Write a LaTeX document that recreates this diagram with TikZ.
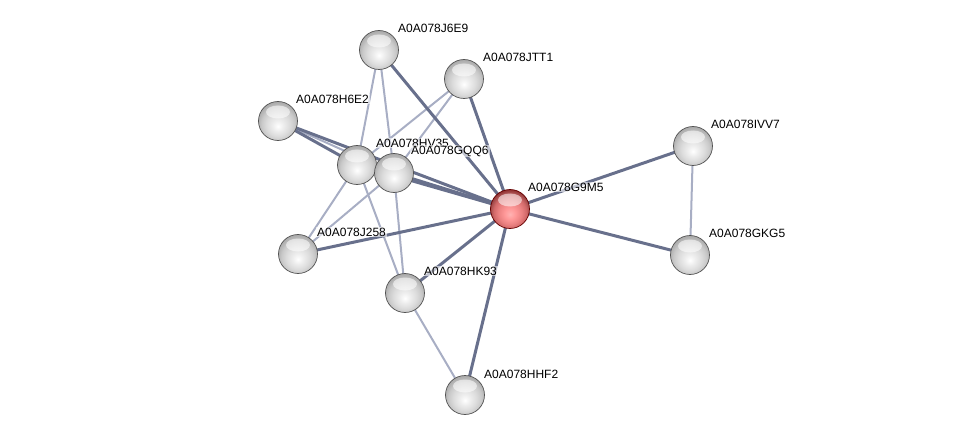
\documentclass[tikz,border=0pt]{standalone}
\usepackage{fontspec}
\setmainfont{Liberation Sans}
\pgfdeclareradialshading{greysphere}{\pgfpoint{0bp}{-7bp}}{color(0bp)=(white); color(7bp)=(gray!14); color(15bp)=(gray!28); color(21bp)=(gray!42); color(25bp)=(gray!58); color(29bp)=(gray!70); color(50bp)=(gray!75)}
\pgfdeclareradialshading{redsphere}{\pgfpoint{0bp}{-7bp}}{color(0bp)=(red!30!white); color(7bp)=(red!40!white); color(15bp)=(red!45!white!92!black); color(21bp)=(red!50!white!82!black); color(25bp)=(red!50!black!70!white); color(29bp)=(red!45!black!85!white); color(50bp)=(red!40!black)}
\begin{document}
\begin{tikzpicture}[x=1pt,y=-1pt,
  prot/.style={circle,minimum size=39pt,inner sep=0pt,shading=greysphere,draw=gray!65!black,line width=0.7pt,
    path picture={\fill[white,opacity=0.55] ([yshift=9pt]path picture bounding box.center) ellipse (12pt and 6.5pt);}},
  hub/.style={prot,shading=redsphere,draw=red!40!black},
  lbl/.style={anchor=west,font=\fontsize{12}{12}\selectfont,inner sep=1pt,fill=white,fill opacity=0.6,text opacity=1},
  strong/.style={line width=3pt,color={rgb,255:red,104;green,112;blue,140}},
  weak/.style={line width=2pt,color={rgb,255:red,168;green,174;blue,196}}]
\useasboundingbox (0,0) rectangle (975,441);
% nodes (coordinates)
\coordinate (cG9M5) at (510,209);
\coordinate (cJ6E9) at (379,50);
\coordinate (cJTT1) at (464,79);
\coordinate (cH6E2) at (278,121);
\coordinate (cHV35) at (357,165);
\coordinate (cGQQ6) at (394,173);
\coordinate (cJ258) at (298,254);
\coordinate (cHK93) at (405,293);
\coordinate (cHHF2) at (465,395);
\coordinate (cIVV7) at (693,146);
\coordinate (cGKG5) at (690,255);
% weak edges
\draw[weak] (cIVV7) -- (cGKG5);
\draw[weak] (cJ6E9) -- (cHV35);
\draw[weak] (cJ6E9) -- (cGQQ6);
\draw[weak] (cJTT1) -- (cHV35);
\draw[weak] (cJTT1) -- (cGQQ6);
\draw[weak] (cHV35) -- (cJ258);
\draw[weak] (cGQQ6) -- (cJ258);
\draw[weak] (cHV35) -- (cHK93);
\draw[weak] (cGQQ6) -- (cHK93);
\draw[weak] (cHK93) -- (cHHF2);
\draw[weak] (cH6E2) -- (cGQQ6);
% strong edges
\draw[strong] (cH6E2) -- (cHV35);
\draw[strong] (cG9M5) -- (cH6E2);
\draw[strong] (cG9M5) -- (cJ6E9);
\draw[strong] (cG9M5) -- (cJTT1);
\draw[strong] (cG9M5) -- (cHV35);
\draw[strong] (cG9M5) -- (cGQQ6);
\draw[strong] (cG9M5) -- (cJ258);
\draw[strong] (cG9M5) -- (cHK93);
\draw[strong] (cG9M5) -- (cHHF2);
\draw[strong] (cG9M5) -- (cIVV7);
\draw[strong] (cG9M5) -- (cGKG5);
% balls
\node[prot] (J6E9) at (cJ6E9) {};
\node[prot] (JTT1) at (cJTT1) {};
\node[prot] (H6E2) at (cH6E2) {};
\node[prot] (HV35) at (cHV35) {};
\node[prot] (GQQ6) at (cGQQ6) {};
\node[prot] (J258) at (cJ258) {};
\node[prot] (HK93) at (cHK93) {};
\node[prot] (HHF2) at (cHHF2) {};
\node[prot] (IVV7) at (cIVV7) {};
\node[prot] (GKG5) at (cGKG5) {};
\node[hub] (G9M5) at (cG9M5) {};
% labels
\node[lbl] (tJ6E9) at (397,28) {A0A078J6E9};
\node[lbl] (tJTT1) at (482,57) {A0A078JTT1};
\node[lbl] (tH6E2) at (295,99) {A0A078H6E2};
\node[lbl] (tHV35) at (375,143) {A0A078HV35};
\node[lbl] (tGQQ6) at (410,151) {A0A078GQQ6};
\node[lbl] (tG9M5) at (527,187) {A0A078G9M5};
\node[lbl] (tIVV7) at (710,124) {A0A078IVV7};
\node[lbl] (tGKG5) at (708,233) {A0A078GKG5};
\node[lbl] (tJ258) at (316,232) {A0A078J258};
\node[lbl] (tHK93) at (423,271) {A0A078HK93};
\node[lbl] (tHHF2) at (483,374) {A0A078HHF2};
\end{tikzpicture}
\end{document}
